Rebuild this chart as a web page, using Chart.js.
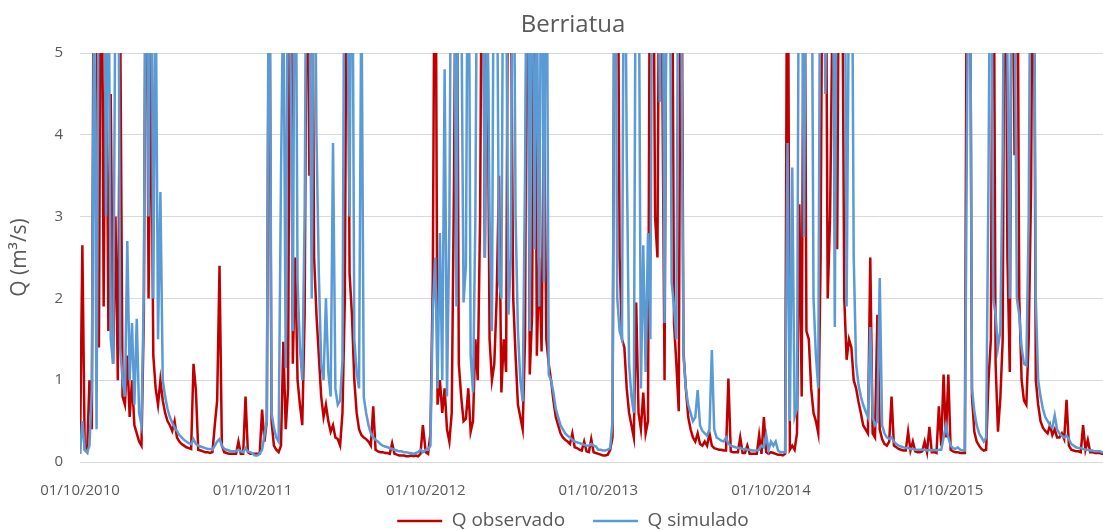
<!DOCTYPE html>
<html>
<head>
<meta charset="utf-8">
<script src="https://cdn.jsdelivr.net/npm/chart.js@4.4.1/dist/chart.umd.min.js"></script>
<style>
  html, body { margin: 0; padding: 0; background: #ffffff; overflow: hidden; }
  #chart { display: block; }
</style>
</head>
<body>
<canvas id="chart" width="1146" height="559"></canvas>
<script>
// Daily discharge, every 5 days, one array per hydrological year (starting 1 Oct)
const stepDays = 5;
const yearStartDays = [0, 365, 731, 1096, 1461, 1826];

const tickDays = [0, 365, 731, 1096, 1461, 1826];
const tickLabels = ['01/10/2010', '01/10/2011', '01/10/2012', '01/10/2013', '01/10/2014', '01/10/2015'];

const obs2010 = [
  0.1, 2.65, 0.15, 0.12, 1.0, 0.4, 8, 6, 1.4, 8,
  1.9, 6, 1.6, 4.5, 1.2, 3.0, 1.0, 5.5, 0.8, 0.7,
  1.3, 0.55, 1.0, 0.45, 0.35, 0.25, 0.2, 1.8, 8, 2.0,
  5, 1.3, 0.9, 0.7, 1.0, 0.75, 0.6, 0.5, 0.45, 0.38,
  0.5, 0.3, 0.25, 0.22, 0.2, 0.18, 0.17, 0.16, 1.2, 0.88,
  0.15, 0.14, 0.13, 0.12, 0.12, 0.11, 0.12, 0.45, 0.75, 2.4,
  0.2, 0.12, 0.11, 0.1, 0.1, 0.1, 0.1, 0.25, 0.1, 0.1,
  0.8, 0.12, 0.1
];
const sim2010 = [
  0.1, 0.5, 0.15, 0.12, 0.2, 0.9, 6, 0.4, 7, 5,
  8, 3, 7, 1.5, 1.2, 6, 8, 1.4, 1.0, 0.8,
  2.7, 1.0, 1.7, 0.7, 1.75, 0.6, 0.45, 2.1, 8, 3,
  8, 2, 6, 1.5, 3.3, 1.0, 0.8, 0.65, 0.55, 0.48,
  0.42, 0.38, 0.33, 0.3, 0.27, 0.25, 0.23, 0.22, 0.28, 0.22,
  0.2, 0.19, 0.18, 0.17, 0.16, 0.16, 0.15, 0.2, 0.25, 0.28,
  0.2, 0.16, 0.15, 0.14, 0.13, 0.13, 0.13, 0.15, 0.13, 0.12,
  0.17, 0.13, 0.12
];

const obs2011 = [
  0.1, 0.1, 0.1, 0.1, 0.64, 0.25, 0.5, 7, 0.5, 0.2,
  0.15, 0.12, 0.2, 1.47, 0.4, 0.9, 8, 1.2, 2.5, 1.0,
  0.7, 0.45, 1.8, 7, 3.5, 8, 2.5, 1.8, 1.3, 0.8,
  0.55, 0.7, 0.5, 0.37, 0.45, 0.3, 0.28, 0.2, 0.6, 2.0,
  8, 2.3, 1.8, 1.0, 0.6, 0.4, 0.33, 0.3, 0.28, 0.25,
  0.2, 0.68, 0.15, 0.13, 0.12, 0.12, 0.11, 0.11, 0.1, 0.23,
  0.1, 0.09, 0.08, 0.08, 0.08, 0.07, 0.07, 0.08, 0.07, 0.08,
  0.07, 0.1, 0.45
];
const sim2011 = [
  0.1, 0.08, 0.08, 0.1, 0.15, 0.33, 0.5, 8, 0.6, 0.42,
  0.3, 0.25, 3.5, 6, 1.15, 7, 5, 1.6, 8, 2.2,
  1.4, 1.0, 3.0, 8, 6, 2.0, 8, 4.0, 2.3, 1.2,
  1.0, 2.0, 1.1, 0.8, 3.9, 0.9, 0.7, 0.75, 1.25, 8,
  6, 3.0, 8, 1.5, 1.1, 0.9, 6, 0.8, 0.6, 0.45,
  0.35, 0.3, 0.27, 0.25, 0.22, 0.2, 0.19, 0.18, 0.17, 0.16,
  0.15, 0.14, 0.13, 0.13, 0.12, 0.12, 0.11, 0.11, 0.1, 0.11,
  0.12, 0.15, 0.12
];

const obs2012 = [
  0.12, 0.1, 0.35, 2.25, 8, 0.7, 1.0, 0.6, 0.9, 0.4,
  0.25, 0.6, 3.55, 8, 1.2, 0.8, 0.5, 0.53, 0.9, 0.37,
  0.5, 1.5, 1.0, 3.0, 8, 2.5, 6, 1.5, 1.0, 1.2,
  2.0, 3.5, 0.85, 1.5, 1.1, 8, 6, 2.0, 1.3, 0.7,
  0.55, 0.4, 1.5, 8, 1.07, 1.8, 8, 1.3, 2.5, 1.35,
  4.5, 1.5, 1.2, 1.0, 0.75, 0.55, 0.45, 0.35, 0.3, 0.27,
  0.25, 0.22, 0.35, 0.18, 0.17, 0.15, 0.14, 0.25, 0.13, 0.12,
  0.28, 0.12, 0.11
];
const sim2012 = [
  0.15, 0.15, 0.2, 1.85, 2.5, 0.9, 2.8, 1.0, 4.8, 0.8,
  2.9, 8, 7, 1.9, 8, 6, 1.95, 2.4, 8, 1.3,
  0.85, 3.0, 8, 7, 8, 2.5, 6, 3.0, 1.6, 8,
  7, 2.2, 2.0, 8, 6, 1.8, 2.5, 8, 3.0, 1.6,
  1.0, 0.74, 3.5, 8, 1.6, 8, 2.6, 6, 1.9, 8,
  2.2, 8, 1.07, 1.0, 0.85, 0.65, 0.55, 0.45, 0.4, 0.35,
  0.32, 0.3, 0.27, 0.25, 0.24, 0.23, 0.22, 0.21, 0.2, 0.2,
  0.22, 0.2, 0.19
];

const obs2013 = [
  0.1, 0.09, 0.08, 0.08, 0.09, 0.15, 0.3, 8, 8, 2.5,
  1.5, 1.4, 0.9, 0.6, 0.45, 0.3, 1.95, 0.6, 0.4, 0.85,
  0.35, 0.5, 8, 8, 3.0, 2.5, 8, 5, 1.0, 8,
  6, 8, 1.7, 1.2, 0.62, 8, 1.35, 0.9, 0.55, 0.4,
  0.3, 0.25, 0.35, 0.22, 0.2, 0.25, 0.2, 0.35, 0.2, 0.17,
  0.16, 0.15, 0.15, 0.14, 0.14, 1.02, 0.13, 0.12, 0.12, 0.12,
  0.3, 0.11, 0.11, 0.2, 0.1, 0.1, 0.1, 0.1, 0.33, 0.1,
  0.55, 0.12, 0.1
];
const sim2013 = [
  0.15, 0.15, 0.14, 0.14, 0.15, 0.17, 0.5, 8, 2.0, 1.6,
  1.5, 8, 3.8, 1.2, 0.8, 0.6, 8, 7, 0.9, 2.65,
  1.1, 2.8, 1.5, 8, 6, 8, 4.4, 8, 1.7, 7,
  8, 2.2, 1.9, 1.5, 8, 6, 1.3, 0.9, 0.7, 0.6,
  0.5, 0.55, 0.88, 0.45, 0.38, 0.35, 0.32, 0.4, 1.37, 0.4,
  0.3, 0.28, 0.26, 0.25, 0.3, 0.22, 0.2, 0.19, 0.18, 0.17,
  0.17, 0.16, 0.16, 0.15, 0.15, 0.14, 0.14, 0.14, 0.15, 0.2,
  0.18, 0.33, 0.15
];

const obs2014 = [
  0.12, 0.11, 0.1, 0.09, 0.09, 0.08, 0.1, 8, 0.15, 0.2,
  0.15, 0.35, 3.15, 0.8, 8, 1.6, 1.5, 0.9, 0.6, 0.5,
  0.35, 2.5, 8, 8, 2.0, 3.0, 5.5, 6, 2.6, 8,
  7, 2.0, 1.25, 1.5, 1.4, 1.0, 0.9, 0.74, 0.6, 0.45,
  0.4, 0.35, 2.5, 0.35, 0.3, 1.8, 0.4, 0.28, 0.22, 0.2,
  0.25, 0.8, 0.2, 0.18, 0.16, 0.15, 0.14, 0.14, 0.37, 0.14,
  0.25, 0.13, 0.12, 0.12, 0.13, 0.25, 0.12, 0.43, 0.12, 0.12,
  0.11, 0.68, 0.2
];
const sim2014 = [
  0.25, 0.2, 0.25, 0.14, 0.12, 0.12, 0.12, 3.9, 0.5, 3.6,
  0.55, 0.65, 8, 7, 2.75, 8, 6, 8, 2.0, 1.3,
  0.9, 8, 7, 4.5, 8, 6, 8, 1.65, 8, 7,
  5, 8, 1.9, 6, 8, 2.5, 1.2, 0.95, 0.8, 0.7,
  0.62, 0.55, 1.65, 0.55, 0.45, 0.5, 2.25, 0.45, 0.35, 0.3,
  0.28, 0.3, 0.25, 0.22, 0.2, 0.19, 0.18, 0.17, 0.17, 0.16,
  0.16, 0.15, 0.15, 0.15, 0.15, 0.15, 0.14, 0.15, 0.14, 0.15,
  0.14, 0.15, 0.15
];

const obs2015 = [
  1.07, 0.3, 1.07, 0.15, 0.13, 0.12, 0.12, 0.11, 0.11, 0.11,
  8, 8, 0.8, 0.37, 0.25, 0.2, 0.16, 0.14, 0.15, 1.0,
  1.5, 8, 1.2, 0.37, 0.78, 1.5, 8, 2.5, 1.1, 8,
  3.75, 8, 2.0, 1.0, 0.75, 0.7, 1.5, 3.35, 8, 1.0,
  0.7, 0.5, 0.42, 0.38, 0.35, 0.45, 0.33, 0.4, 0.3, 0.3,
  0.35, 0.28, 0.76, 0.2, 0.15, 0.14, 0.13, 0.13, 0.12, 0.45,
  0.15, 0.27, 0.12, 0.12, 0.11, 0.11, 0.11, 0.1, 0.1, 0.1,
  0.1, 0.1, 0.1
];
const sim2015 = [
  0.3, 0.45, 0.3, 0.2, 0.17, 0.16, 0.18, 0.15, 0.14, 0.14,
  4.5, 8, 0.9, 0.62, 0.45, 0.35, 0.3, 0.25, 0.3, 3.5,
  8, 2.0, 1.8, 1.4, 1.6, 3.8, 8, 5, 2.0, 8,
  6, 2.0, 1.8, 1.4, 1.2, 1.18, 3.0, 8, 8, 2.0,
  1.0, 0.8, 0.65, 0.55, 0.5, 0.45, 0.42, 0.57, 0.4, 0.35,
  0.32, 0.3, 0.32, 0.28, 0.22, 0.2, 0.18, 0.17, 0.17, 0.16,
  0.15, 0.15, 0.14, 0.14, 0.13, 0.13, 0.13, 0.12, 0.12, 0.12,
  0.12, 0.12, 0.12
];

const obsYears = [obs2010, obs2011, obs2012, obs2013, obs2014, obs2015];
const simYears = [sim2010, sim2011, sim2012, sim2013, sim2014, sim2015];

const FONT = '"Open Sans", "Noto Sans", sans-serif';
const GREY_TEXT = '#595959';
const GRID = '#d9d9d9';

function buildSeries(years) {
  const points = [];
  years.forEach((values, i) => {
    values.forEach((v, k) => {
      points.push({ x: yearStartDays[i] + k * stepDays, y: v });
    });
  });
  return points;
}

// the legend padding also adds height, so pull the legend back up under the axis labels
const legendNudge = {
  id: 'legendNudge',
  afterLayout(chart) {
    if (!chart.legend) return;
    chart.legend.top -= 18.5;
    chart.legend.bottom -= 18.5;
  }
};

const ctx = document.getElementById('chart');

new Chart(ctx, {
  type: 'line',
  data: {
    datasets: [
      {
        label: 'Q simulado',
        data: buildSeries(simYears),
        borderColor: '#5b9bd5',
        backgroundColor: '#5b9bd5',
        borderWidth: 2.5,
        pointRadius: 0,
        tension: 0
      },
      {
        label: 'Q observado',
        data: buildSeries(obsYears),
        borderColor: '#c00000',
        backgroundColor: '#c00000',
        borderWidth: 2.5,
        pointRadius: 0,
        tension: 0
      }
    ]
  },
  options: {
    responsive: false,
    animation: false,
    layout: {
      padding: 0
    },
    plugins: {
      title: {
        display: true,
        text: 'Berriatua',
        color: GREY_TEXT,
        font: { family: FONT, size: 24, weight: 'normal' },
        padding: { top: 11, bottom: 13.2 }
      },
      legend: {
        position: 'bottom',
        reverse: true,
        labels: {
          usePointStyle: true,
          pointStyle: 'line',
          pointStyleWidth: 45,
          color: GREY_TEXT,
          font: { family: FONT, size: 19 },
          padding: 28
        }
      },
      tooltip: { enabled: false }
    },
    scales: {
      x: {
        type: 'linear',
        min: 0,
        max: 2254,
        afterBuildTicks: (scale) => {
          scale.ticks = tickDays.map(v => ({ value: v }));
        },
        afterFit: (scale) => {
          scale.height = 40;
        },
        ticks: {
          autoSkip: false,
          maxRotation: 0,
          color: GREY_TEXT,
          font: { family: FONT, size: 15 },
          padding: 20,
          callback: (value) => tickLabels[tickDays.indexOf(value)]
        },
        grid: { display: false, drawTicks: false },
        border: { display: true, color: GRID, width: 1 }
      },
      y: {
        min: 0,
        max: 5,
        afterFit: (scale) => {
          scale.width = 80;
        },
        ticks: {
          stepSize: 1,
          color: GREY_TEXT,
          font: { family: FONT, size: 15 },
          padding: 17
        },
        grid: { color: GRID, drawTicks: false },
        border: { display: false },
        title: {
          display: true,
          text: 'Q (m³/s)',
          color: GREY_TEXT,
          font: { family: FONT, size: 21 },
          padding: { top: 7, bottom: 0 }
        }
      }
    }
  },
  plugins: [legendNudge]
});
</script>
</body>
</html>
